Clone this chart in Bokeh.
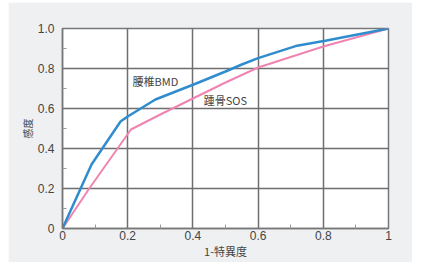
from bokeh.plotting import figure
from bokeh.models import Range1d, Label, FixedTicker, Spacer
from bokeh.layouts import column, row
from bokeh.embed import file_html
from bokeh.resources import INLINE

bmd_x = [0, 0.089, 0.178, 0.2, 0.285, 0.41, 0.5, 0.55, 0.6, 0.715, 0.81, 1.0]
bmd_y = [0, 0.32, 0.535, 0.56, 0.645, 0.725, 0.785, 0.82, 0.852, 0.912, 0.94, 1.0]
sos_x = [0, 0.08, 0.21, 0.3, 0.4, 0.5, 0.6, 0.8, 1.0]
sos_y = [0, 0.195, 0.495, 0.57, 0.65, 0.73, 0.805, 0.91, 1.0]
x_ticks = [0, 0.2, 0.4, 0.6, 0.8, 1.0]
x_tick_labels = ["0", "0.2", "0.4", "0.6", "0.8", "1"]
y_ticks = [0, 0.2, 0.4, 0.6, 0.8, 1.0]
y_tick_labels = ["0", "0.2", "0.4", "0.6", "0.8", "1.0"]
series_labels = ["腰椎BMD", "踵骨SOS"]
x_title = "1-特異度"
y_title = "感度"

FONT = "Liberation Sans"
CJK = "Noto Sans CJK JP"
p = figure(width=404, height=260, output_backend="svg", toolbar_location=None,
           x_range=Range1d(0, 1), y_range=Range1d(0, 1),
           min_border_left=54, min_border_right=24, min_border_top=26, min_border_bottom=34)
p.border_fill_color = "#eef0f2"
p.background_fill_color = "white"
p.outline_line_color = "#777777"
p.outline_line_width = 1.5

for ax, ticks, labels in [(p.xaxis[0], x_ticks, x_tick_labels), (p.yaxis[0], y_ticks, y_tick_labels)]:
    ax.ticker = FixedTicker(ticks=ticks, minor_ticks=[0.1, 0.3, 0.5, 0.7, 0.9])
    ax.major_label_overrides = {t: l for t, l in zip(ticks, labels)}
    ax.major_tick_in = 0
    ax.major_tick_out = 0
    ax.minor_tick_in = 4
    ax.minor_tick_out = 0
    ax.minor_tick_line_color = "#999999"
    ax.axis_line_color = "#777777"
    ax.axis_line_width = 1.5
    ax.major_label_text_font = FONT
    ax.major_label_text_font_size = "12px"
    ax.major_label_text_color = "#444444"
    ax.axis_label_text_font = CJK
    ax.axis_label_text_font_size = "11px"
    ax.axis_label_text_font_style = "normal"
    ax.axis_label_text_color = "#444444"

p.xaxis.axis_label = x_title
p.yaxis.axis_label = y_title
p.yaxis.axis_label_text_font_size = "10px"
p.xaxis.major_label_standoff = 2
p.xaxis.axis_label_standoff = 0
p.yaxis.major_label_standoff = 8
p.yaxis.axis_label_standoff = 0

p.xgrid.ticker = FixedTicker(ticks=x_ticks)
p.ygrid.ticker = FixedTicker(ticks=y_ticks)
p.grid.grid_line_color = "#6e6e6e"
p.grid.grid_line_width = 1.5

p.line(sos_x, sos_y, line_color="#f084b0", line_width=2)
p.line(bmd_x, bmd_y, line_color="#2f8ccf", line_width=2.5)

p.add_layout(Label(x=0.215, y=0.74, text=series_labels[0], text_font=CJK,
                   text_font_size="11px", text_color="#444444", text_baseline="middle"))
p.add_layout(Label(x=0.433, y=0.645, text=series_labels[1], text_font=CJK,
                   text_font_size="11px", text_color="#444444", text_baseline="middle"))

layout = column(Spacer(height=2, width=412), row(Spacer(width=8, height=260), p))
open("out.html", "w").write(file_html(layout, INLINE))
